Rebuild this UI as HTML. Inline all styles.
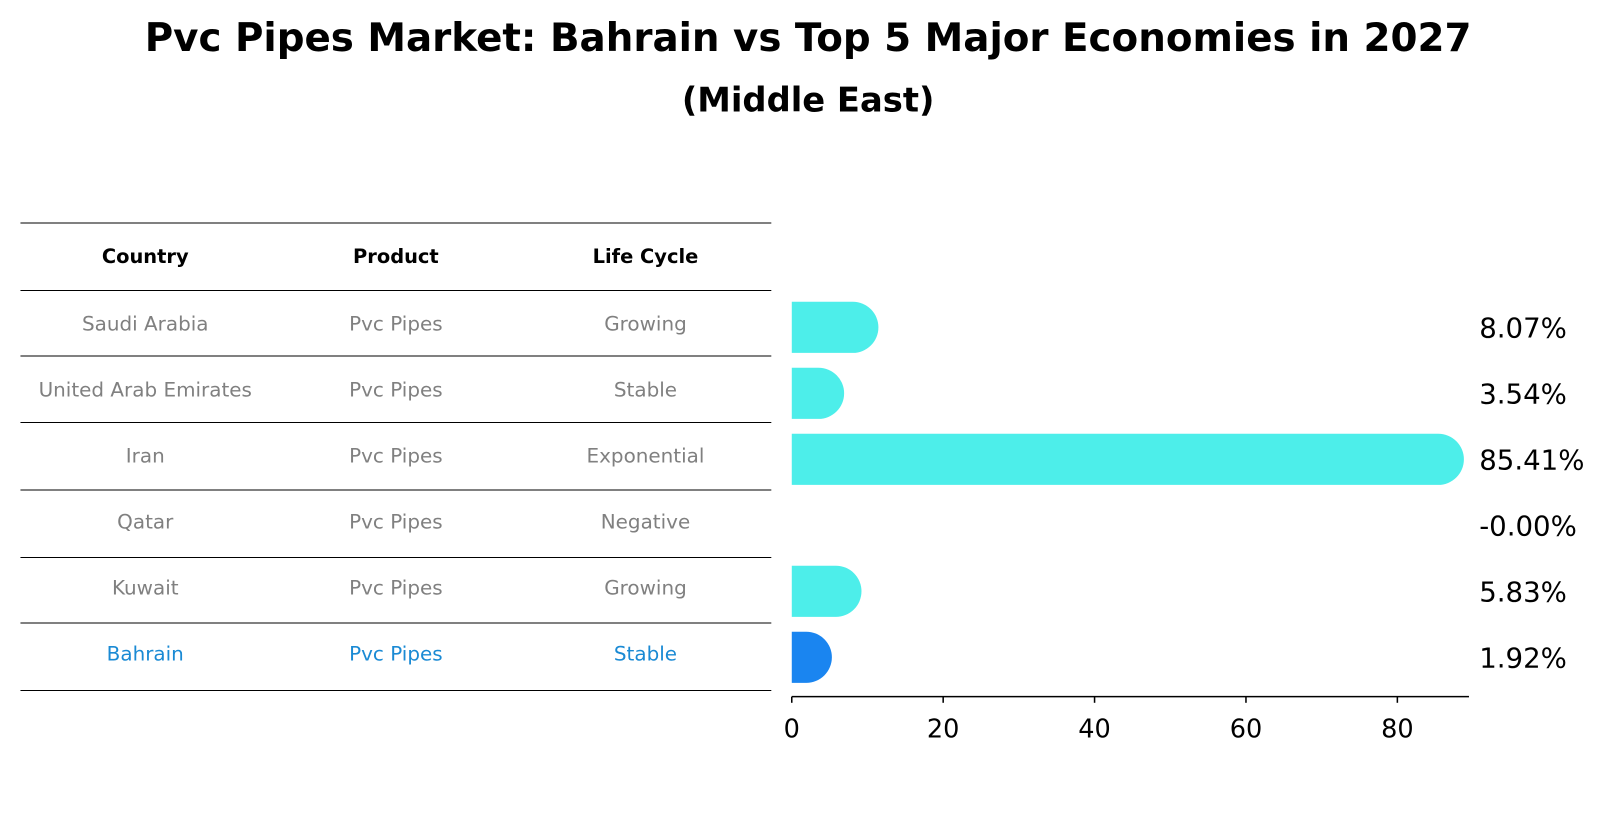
<!DOCTYPE html>
<html><head><meta charset="utf-8"><style>
body{margin:0;background:#fff;font-family:"Liberation Sans","DejaVu Sans",sans-serif}
</style></head><body>
<svg width="1604" height="823" viewBox="0 0 1568 804.5" preserveAspectRatio="none" xmlns="http://www.w3.org/2000/svg" font-family="DejaVu Sans, Liberation Sans, sans-serif">
<text x="790" y="50" text-anchor="middle" font-size="38" font-weight="bold" textLength="1297" lengthAdjust="spacingAndGlyphs">Pvc Pipes Market: Bahrain vs Top 5 Major Economies in 2027</text>
<text x="790" y="109" text-anchor="middle" font-size="33" font-weight="bold">(Middle East)</text>
<g id="table"></g>
<g id="bars"></g>
<g id="axis"></g>
</svg>
<script>
const countries=["Saudi Arabia","United Arab Emirates","Iran","Qatar","Kuwait","Bahrain"];
const products=["Pvc Pipes","Pvc Pipes","Pvc Pipes","Pvc Pipes","Pvc Pipes","Pvc Pipes"];
const lifecycle=["Growing","Stable","Exponential","Negative","Growing","Stable"];
const values=[8.07,3.54,85.41,-0.00,5.83,1.92];
const labels=["8.07%","3.54%","85.41%","-0.00%","5.83%","1.92%"];
const ticks=[0,20,40,60,80];
const NS="http://www.w3.org/2000/svg";
function mk(tag,attrs,parent){const e=document.createElementNS(NS,tag);for(const k in attrs)e.setAttribute(k,attrs[k]);parent.appendChild(e);return e;}
const x0=774,scale=(922-774)/20;
const xs=v=>x0+v*scale;
const rowY=i=>316+i*64.5;
const tbl=document.getElementById('table');
const lineYs=[218,284,348,413,479,545,609,675];
lineYs.forEach((y,i)=>{const l=mk('line',{x1:20,x2:754,y1:y,y2:y,stroke:'#000','stroke-width':1},tbl);

});
const cx=[142,387,631];
["Country","Product","Life Cycle"].forEach((h,j)=>{const t=mk('text',{x:cx[j],y:257,'text-anchor':'middle','font-size':19,'font-weight':'bold'},tbl);t.textContent=h;

});
countries.forEach((c,i)=>{const col=i===countries.length-1?'#1a8ad4':'#808080';
[c,products[i],lifecycle[i]].forEach((s,j)=>{const t=mk('text',{x:cx[j],y:rowY(i)+7,'text-anchor':'middle','font-size':19.5,fill:col},tbl);t.textContent=s;

});});
const bars=document.getElementById('bars');
const bh=50,r=25;
values.forEach((v,i)=>{const cy=rowY(i)+4;const col=i===values.length-1?'#1a85f0':'#4deeea';
if(v>0){const xe=xs(v);
const p=mk('path',{d:`M${x0},${cy-bh/2} L${xe},${cy-bh/2} A${r},${r} 0 0 1 ${xe},${cy+bh/2} L${x0},${cy+bh/2} Z`,fill:col},bars);

}
const t=mk('text',{x:1446,y:cy+10,'font-size':27},bars);t.textContent=labels[i];

});
const ax=document.getElementById('axis');
const al=mk('line',{x1:x0,x2:1436,y1:681,y2:681,stroke:'#000','stroke-width':1.5},ax);


ticks.forEach(v=>{const tk=mk('line',{x1:xs(v),x2:xs(v),y1:681,y2:687,stroke:'#000','stroke-width':1.5},ax);


const t=mk('text',{x:xs(v),y:721,'text-anchor':'middle','font-size':25},ax);t.textContent=v;

});
</script>
</body></html>
